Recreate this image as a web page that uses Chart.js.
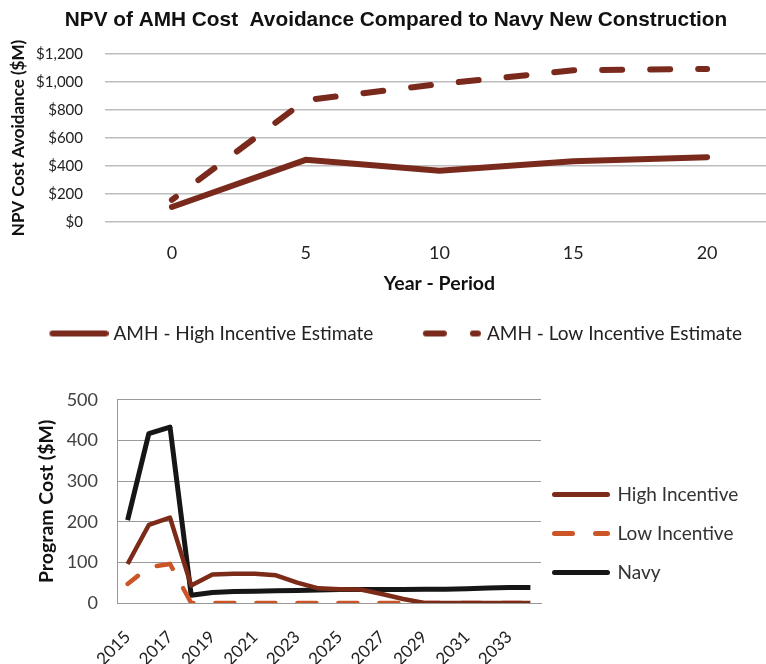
<!DOCTYPE html>
<html><head><meta charset="utf-8">
<script src="https://cdn.jsdelivr.net/npm/chart.js@4/dist/chart.umd.min.js"></script>
<style>
html,body{margin:0;padding:0;background:#fff;overflow:hidden;width:766px;height:664px;position:relative;}
#w1{position:absolute;left:0;top:0;width:792px;height:353px;}
#w2{position:absolute;left:0;top:370px;width:766px;height:294px;}
</style></head><body>
<div id="w1"><canvas id="c1" width="792" height="353"></canvas></div>
<div id="w2"><canvas id="c2" width="766" height="294"></canvas></div>
<script>
// ---- Top chart data ----
const periods = ['0', '5', '10', '15', '20'];
const npvHigh = [107, 444, 366, 433, 463];
const npvLow = [158, 870, 985, 1083, 1093];

// ---- Bottom chart data ----
const years = ['2015','2016','2017','2018','2019','2020','2021','2022','2023','2024',
               '2025','2026','2027','2028','2029','2030','2031','2032','2033','2034'];
const costHigh = [96, 192, 210, 43, 70, 72, 72, 68, 50, 36, 34, 33, 22, 10, 0, 0, 0, 0, 0, 0];
const costLow  = [47, 88, 96, 0, 0, 0, 0, 0, 0, 0, 0, 0, 0, 0, 0, 0, 0, 0, 0, 0];
const costNavy = [204, 417, 433, 19, 26, 28, 29, 30, 31, 32, 33, 33, 33, 33, 34, 34, 35, 37, 38, 38];

const brown = '#7a2a1c';
const hiCol = '#7b2b18', loCol = '#cc5528', navyCol = '#161616';

// legend line swatches (style only)
function swatch(width, lw, color, segs) {
  const c = document.createElement('canvas');
  c.width = width; c.height = Math.ceil(lw) + 2;
  const g = c.getContext('2d');
  g.strokeStyle = color; g.lineWidth = lw; g.lineCap = 'round';
  const y = c.height / 2, r = lw / 2;
  segs.forEach(([a, b]) => { g.beginPath(); g.moveTo(a + r, y); g.lineTo(b - r, y); g.stroke(); });
  return c;
}
const swTopSolid = swatch(69, 6, brown, [[10, 69]]);
const swTopDash  = swatch(69, 6, brown, [[10, 34], [57, 68]]);
const swHi   = swatch(58, 5, hiCol, [[0, 58]]);
const swLo   = swatch(58, 5, loCol, [[0, 23], [41, 58]]);
const swNavy = swatch(58, 5, navyCol, [[0, 58]]);

new Chart(document.getElementById('c1'), {
  type: 'line',
  data: {
    labels: periods,
    datasets: [
      { label: 'AMH - High Incentive Estimate', data: npvHigh, borderColor: brown, backgroundColor: brown,
        borderWidth: 6, pointRadius: 0, pointStyle: swTopSolid, borderCapStyle: 'round', borderJoinStyle: 'round', tension: 0 },
      { label: 'AMH - Low Incentive Estimate', data: npvLow, borderColor: brown, backgroundColor: brown,
        borderWidth: 6, pointRadius: 0, pointStyle: swTopDash, borderCapStyle: 'round', borderJoinStyle: 'round',
        borderDash: [20, 28], borderDashOffset: 15, tension: 0 }
    ]
  },
  options: {
    responsive: false, animation: false, devicePixelRatio: 1,
    layout: { padding: 0 },
    plugins: {
      title: { display: true, text: 'NPV of AMH Cost  Avoidance Compared to Navy New Construction',
        font: { family: 'Liberation Sans', size: 20.8, weight: 'bold' }, color: '#111',
        padding: { top: 7.5, bottom: 21.5 } },
      legend: { position: 'bottom', align: 'start',
        labels: { usePointStyle: true, pointStyleWidth: 60, padding: 44,
          font: { family: 'Lato', size: 19 }, color: '#222' } },
      tooltip: { enabled: false }
    },
    scales: {
      x: { offset: true, grid: { display: false, drawTicks: false }, border: { display: false },
        ticks: { padding: 20, font: { family: 'Lato', size: 18 }, color: '#222' },
        title: { display: true, text: 'Year - Period', font: { family: 'Lato', size: 19.5, weight: 'bold' },
          color: '#111', padding: { top: 0, bottom: -15.2 } },
        afterFit(s) { s.height = 58; } },
      y: { min: 0, max: 1200,
        ticks: { stepSize: 200, padding: 22, callback: v => '$' + Number(v).toLocaleString('en-US'),
          font: { family: 'Lato', size: 15 }, color: '#222' },
        grid: { color: '#bdbdbd', lineWidth: 1.5, drawTicks: false }, border: { display: false },
        title: { display: true, text: 'NPV Cost Avoidance ($M)', font: { family: 'Lato', size: 17, weight: 'bold' },
          color: '#111', padding: { top: 8, bottom: 0 } },
        afterFit(s) { s.width = 105; } },
      y2: { position: 'right', display: true, grid: { display: false, drawTicks: false }, border: { display: false },
        ticks: { display: false }, afterFit(s) { s.width = 18; } }
    }
  }
});

new Chart(document.getElementById('c2'), {
  type: 'line',
  data: {
    labels: years,
    datasets: [
      { label: 'High Incentive', data: costHigh, borderColor: hiCol, backgroundColor: hiCol,
        borderWidth: 4.5, pointRadius: 0, pointStyle: swHi, borderJoinStyle: 'round', tension: 0 },
      { label: 'Low Incentive', data: costLow, borderColor: loCol, backgroundColor: loCol,
        borderWidth: 4.5, pointRadius: 0, pointStyle: swLo, borderCapStyle: 'round', borderDash: [19, 22], borderDashOffset: 6, tension: 0 },
      { label: 'Navy', data: costNavy, borderColor: navyCol, backgroundColor: navyCol,
        borderWidth: 5, pointRadius: 0, pointStyle: swNavy, borderJoinStyle: 'round', tension: 0 }
    ]
  },
  options: {
    responsive: false, animation: false, devicePixelRatio: 1,
    layout: { padding: { top: 24, right: 225, left: 0, bottom: 0 } },
    plugins: {
      legend: { position: 'chartArea', align: 'end',
        labels: { usePointStyle: true, pointStyleWidth: 54, padding: 20,
          font: { family: 'Lato', size: 19 }, color: '#333' } },
      tooltip: { enabled: false }
    },
    scales: {
      x: { offset: true, grid: { display: false, drawTicks: false }, border: { display: true, color: '#999' },
        ticks: { autoSkip: false, minRotation: 45, maxRotation: 45, padding: 24,
          callback(v, i) { return i % 2 === 0 ? this.getLabelForValue(v) : ''; },
          font: { family: 'Lato', size: 17 }, color: '#222' },
        afterFit(s) { s.height = 61; } },
      y: { min: 0, max: 500,
        ticks: { stepSize: 100, padding: 19, font: { family: 'Lato', size: 18 }, color: '#404040' },
        grid: { color: '#9a9a9a', drawTicks: false }, border: { display: true, color: '#999' },
        title: { display: true, text: 'Program Cost ($M)', font: { family: 'Lato', size: 19.5, weight: 'bold' },
          color: '#111', padding: { top: 35, bottom: 0 } },
        afterFit(s) { s.width = 117; } }
    }
  },
  plugins: [{ id: 'legendPlace', afterLayout(chart) {
    const lg = chart.legend, ca = chart.chartArea;
    lg.left = ca.right - 7;
    lg.right = lg.left + lg.width;
    lg.top = ca.top;
    lg.bottom = ca.bottom - 1;
  } }]
});
</script>
</body></html>
